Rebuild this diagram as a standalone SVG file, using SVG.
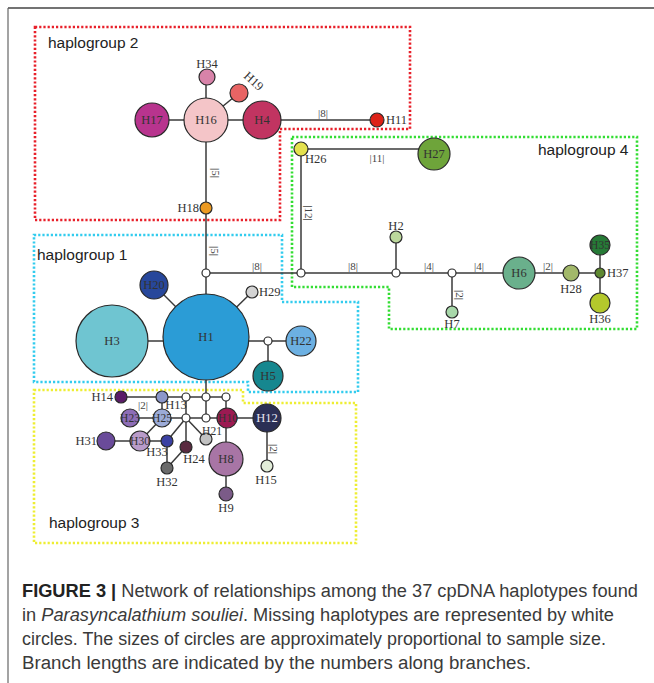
<svg xmlns="http://www.w3.org/2000/svg" width="654" height="683" viewBox="0 0 654 683">
<style>
.e{stroke:#3a3a3a;stroke-width:1.5;fill:none}
.n{stroke:#2a2a2a;stroke-width:1.2}
.w{fill:#fff;stroke:#2a2a2a;stroke-width:1.2}
.t{font-family:"Liberation Serif","Times New Roman",serif;font-size:12.5px;fill:#333}
.s{font-size:11.5px}
.c{text-anchor:middle;dominant-baseline:central}
.m{text-anchor:middle}
.el{font-family:"Liberation Serif","Times New Roman",serif;font-size:11px;fill:#444;text-anchor:middle}
.box{fill:none;stroke-width:2.6;stroke-dasharray:2.2 2}
.hg{font-family:"Liberation Sans",Arial,sans-serif;font-size:15.5px;fill:#222}
.cap{font-family:"Liberation Sans",Arial,sans-serif;font-size:18px;fill:#3a3a3a}
</style>
<rect width="654" height="683" fill="#fff"/>
<g id="frame">
<line x1="8" y1="8" x2="654" y2="8" stroke="#444" stroke-width="1.6"/>
<line x1="8" y1="8" x2="8" y2="683" stroke="#666" stroke-width="1.2"/>
</g>
<g id="groups">
<polygon class="box" stroke="#e8202a" points="35,27 410,27 410,129 280,129 280,220 35,220"/>
<polygon class="box" stroke="#33dd33" points="292,137 637,137 637,329 389,329 389,287 292,287"/>
<polygon class="box" stroke="#33ccee" points="34,235 282,235 282,302 358,302 358,392 248,392 248,382 34,382"/>
<polygon class="box" stroke="#eeee33" points="34,390 243,390 243,403 356,403 356,543 34,543"/>
<text class="hg" x="48" y="48">haplogroup 2</text>
<text class="hg" x="538" y="155">haplogroup 4</text>
<text class="hg" x="37" y="260">haplogroup 1</text>
<text class="hg" x="49" y="528">haplogroup 3</text>
</g>
<g id="connectors">
<line class="e" x1="152" y1="120" x2="377" y2="120"/>
<line class="e" x1="206" y1="77" x2="206" y2="337"/>
<line class="e" x1="206" y1="120" x2="239" y2="93"/>
<line class="e" x1="206" y1="273" x2="600" y2="273"/>
<line class="e" x1="301" y1="149" x2="301" y2="273"/>
<line class="e" x1="301" y1="149" x2="425" y2="149"/>
<line class="e" x1="396" y1="237" x2="396" y2="273"/>
<line class="e" x1="452" y1="273" x2="452" y2="312"/>
<line class="e" x1="600" y1="245" x2="600" y2="303"/>
<line class="e" x1="112" y1="341" x2="268" y2="341"/>
<line class="e" x1="268" y1="341" x2="301" y2="341"/>
<line class="e" x1="268" y1="341" x2="268" y2="376"/>
<line class="e" x1="206" y1="337" x2="154" y2="285"/>
<line class="e" x1="206" y1="337" x2="252" y2="292"/>
<line class="e" x1="206" y1="337" x2="206" y2="418"/>
<line class="e" x1="121" y1="397" x2="226" y2="397"/>
<line class="e" x1="130" y1="418" x2="267" y2="418"/>
<line class="e" x1="162" y1="397" x2="162" y2="418"/>
<line class="e" x1="186" y1="397" x2="186" y2="447"/>
<line class="e" x1="226" y1="397" x2="226" y2="494"/>
<line class="e" x1="186" y1="418" x2="167" y2="441"/>
<line class="e" x1="186" y1="418" x2="206" y2="439"/>
<line class="e" x1="162" y1="418" x2="140" y2="441"/>
<line class="e" x1="106" y1="441" x2="167" y2="441"/>
<line class="e" x1="167" y1="441" x2="167" y2="468"/>
<line class="e" x1="167" y1="468" x2="186" y2="447"/>
<line class="e" x1="267" y1="418" x2="267" y2="466"/>
</g>
<g id="branch-labels">
<text class="el" x="323" y="117">|8|</text>
<text class="el" x="377" y="162">|11|</text>
<text class="el" x="257" y="270">|8|</text>
<text class="el" x="353" y="270">|8|</text>
<text class="el" x="429" y="270">|4|</text>
<text class="el" x="479" y="270">|4|</text>
<text class="el" x="548" y="270">|2|</text>
<text class="el" x="143" y="409">|2|</text>
<text class="el" transform="rotate(90 215 173)" x="215" y="176">|5|</text>
<text class="el" transform="rotate(90 214 251)" x="214" y="254">|5|</text>
<text class="el" transform="rotate(90 308 213)" x="308" y="216">|12|</text>
<text class="el" transform="rotate(90 459 295)" x="459" y="298">|2|</text>
<text class="el" transform="rotate(90 273 449)" x="273" y="452">|2|</text>
</g>
<g id="H16"><circle class="n" cx="206" cy="120" r="22" fill="#f4c5c8"/><text class="t c" x="206" y="120">H16</text></g>
<g id="H17"><circle class="n" cx="152" cy="120" r="17" fill="#b8348e"/><text class="t c" x="152" y="120">H17</text></g>
<g id="H4"><circle class="n" cx="262" cy="120" r="19" fill="#c13461"/><text class="t c" x="262" y="120">H4</text></g>
<g id="H34"><circle class="n" cx="207" cy="77" r="8" fill="#d883a9"/><text class="t m" x="207" y="68">H34</text></g>
<g id="H19"><circle class="n" cx="239" cy="93" r="9" fill="#e86464"/><text class="t" transform="rotate(42 243 77)" x="243" y="77">H19</text></g>
<g id="H11"><circle class="n" cx="377" cy="120" r="7" fill="#dd2218"/><text class="t" x="386" y="124">H11</text></g>
<g id="H18"><circle class="n" cx="206" cy="208" r="6" fill="#ec9a22"/><text class="t" text-anchor="end" x="199" y="212">H18</text></g>
<g id="H26"><circle class="n" cx="301" cy="149" r="7" fill="#e4e14e"/><text class="t" x="305" y="163">H26</text></g>
<g id="H27"><circle class="n" cx="434" cy="154" r="16" fill="#6ea43a"/><text class="t c" x="434" y="154">H27</text></g>
<g id="mv1"><circle class="w" cx="206" cy="273" r="4"/></g>
<g id="mv2"><circle class="w" cx="301" cy="273" r="4"/></g>
<g id="mv3"><circle class="w" cx="396" cy="273" r="4"/></g>
<g id="mv4"><circle class="w" cx="452" cy="273" r="4"/></g>
<g id="H2"><circle class="n" cx="396" cy="237" r="6" fill="#bcd89c"/><text class="t m" x="396" y="230">H2</text></g>
<g id="H7"><circle class="n" cx="452" cy="312" r="6" fill="#a8d8aa"/><text class="t m" x="452" y="328">H7</text></g>
<g id="H6"><circle class="n" cx="519" cy="273" r="16" fill="#6ab08c"/><text class="t c" x="519" y="273">H6</text></g>
<g id="H28"><circle class="n" cx="571" cy="273" r="8" fill="#a2b86a"/><text class="t m" x="571" y="293">H28</text></g>
<g id="H37"><circle class="n" cx="600" cy="273" r="5" fill="#5e8830"/><text class="t" x="607" y="277">H37</text></g>
<g id="H35"><circle class="n" cx="600" cy="245" r="10" fill="#267a36"/><text class="t s c" x="600" y="245">H35</text></g>
<g id="H36"><circle class="n" cx="600" cy="303" r="10" fill="#b4c82c"/><text class="t m" x="600" y="323">H36</text></g>
<g id="H1"><circle class="n" cx="206" cy="337" r="43" fill="#2b9cd6"/><text class="t c" x="206" y="337" font-size="13">H1</text></g>
<g id="H3"><circle class="n" cx="112" cy="341" r="36" fill="#6fc5d1"/><text class="t c" x="112" y="341" font-size="13">H3</text></g>
<g id="H20"><circle class="n" cx="154" cy="285" r="14" fill="#27479b"/><text class="t c" x="154" y="285">H20</text></g>
<g id="H29"><circle class="n" cx="252" cy="292" r="6" fill="#d3d3d3"/><text class="t" x="259" y="296">H29</text></g>
<g id="mv5"><circle class="w" cx="268" cy="341" r="4"/></g>
<g id="H22"><circle class="n" cx="301" cy="341" r="15" fill="#6cb0e2"/><text class="t c" x="301" y="341">H22</text></g>
<g id="H5"><circle class="n" cx="268" cy="376" r="15" fill="#16878f"/><text class="t c" x="268" y="376">H5</text></g>
<g id="mv6"><circle class="w" cx="186" cy="397" r="4"/></g>
<g id="mv7"><circle class="w" cx="206" cy="397" r="4"/></g>
<g id="mv8"><circle class="w" cx="226" cy="397" r="4"/></g>
<g id="mv9"><circle class="w" cx="186" cy="418" r="4"/></g>
<g id="mv10"><circle class="w" cx="206" cy="418" r="4"/></g>
<g id="H14"><circle class="n" cx="121" cy="397" r="6" fill="#5b1c68"/><text class="t" text-anchor="end" x="113" y="401">H14</text></g>
<g id="H13"><circle class="n" cx="162" cy="397" r="6" fill="#8c97c9"/><text class="t m" x="176" y="409">H13</text></g>
<g id="H23"><circle class="n" cx="130" cy="418" r="9" fill="#8d6db6"/><text class="t s c" x="130" y="418">H23</text></g>
<g id="H25"><circle class="n" cx="162" cy="418" r="9" fill="#9cabd8"/><text class="t s c" x="162" y="418">H25</text></g>
<g id="H10"><circle class="n" cx="227" cy="418" r="10" fill="#9c1a52"/><text class="t s c" x="228" y="418">H10</text></g>
<g id="H12"><circle class="n" cx="267" cy="418" r="14" fill="#2b2f55"/><text class="t c" x="267" y="418" style="fill:#e8e8f0">H12</text></g>
<g id="H31"><circle class="n" cx="106" cy="441" r="9" fill="#6a4b9a"/><text class="t" text-anchor="end" x="97" y="445">H31</text></g>
<g id="H30"><circle class="n" cx="140" cy="441" r="10" fill="#b99bc9"/><text class="t s c" x="140" y="441">H30</text></g>
<g id="H33"><circle class="n" cx="167" cy="441" r="6" fill="#3b41a3"/><text class="t m" x="157" y="456">H33</text></g>
<g id="H21"><circle class="n" cx="206" cy="439" r="6" fill="#c2c2c2"/><text class="t s m" x="212" y="435">H21</text></g>
<g id="H24"><circle class="n" cx="186" cy="447" r="6" fill="#5a2b40"/><text class="t m" x="194" y="463">H24</text></g>
<g id="H32"><circle class="n" cx="167" cy="468" r="6" fill="#6b6b6b"/><text class="t m" x="167" y="486">H32</text></g>
<g id="H8"><circle class="n" cx="226" cy="459" r="17" fill="#a875a5"/><text class="t c" x="226" y="459">H8</text></g>
<g id="H9"><circle class="n" cx="226" cy="494" r="7" fill="#7b5b88"/><text class="t m" x="226" y="512">H9</text></g>
<g id="H15"><circle class="n" cx="267" cy="466" r="6" fill="#e2edd9"/><text class="t m" x="266" y="484">H15</text></g>
<g id="caption">
<text class="cap" x="22" y="597" textLength="616" lengthAdjust="spacingAndGlyphs"><tspan font-weight="bold" fill="#222">FIGURE 3 |</tspan> Network of relationships among the 37 cpDNA haplotypes found</text>
<text class="cap" x="22" y="621" textLength="592" lengthAdjust="spacingAndGlyphs">in <tspan font-style="italic">Parasyncalathium souliei</tspan>. Missing haplotypes are represented by white</text>
<text class="cap" x="22" y="645" textLength="584" lengthAdjust="spacingAndGlyphs">circles. The sizes of circles are approximately proportional to sample size.</text>
<text class="cap" x="22" y="669" textLength="509" lengthAdjust="spacingAndGlyphs">Branch lengths are indicated by the numbers along branches.</text>
</g>
</svg>
